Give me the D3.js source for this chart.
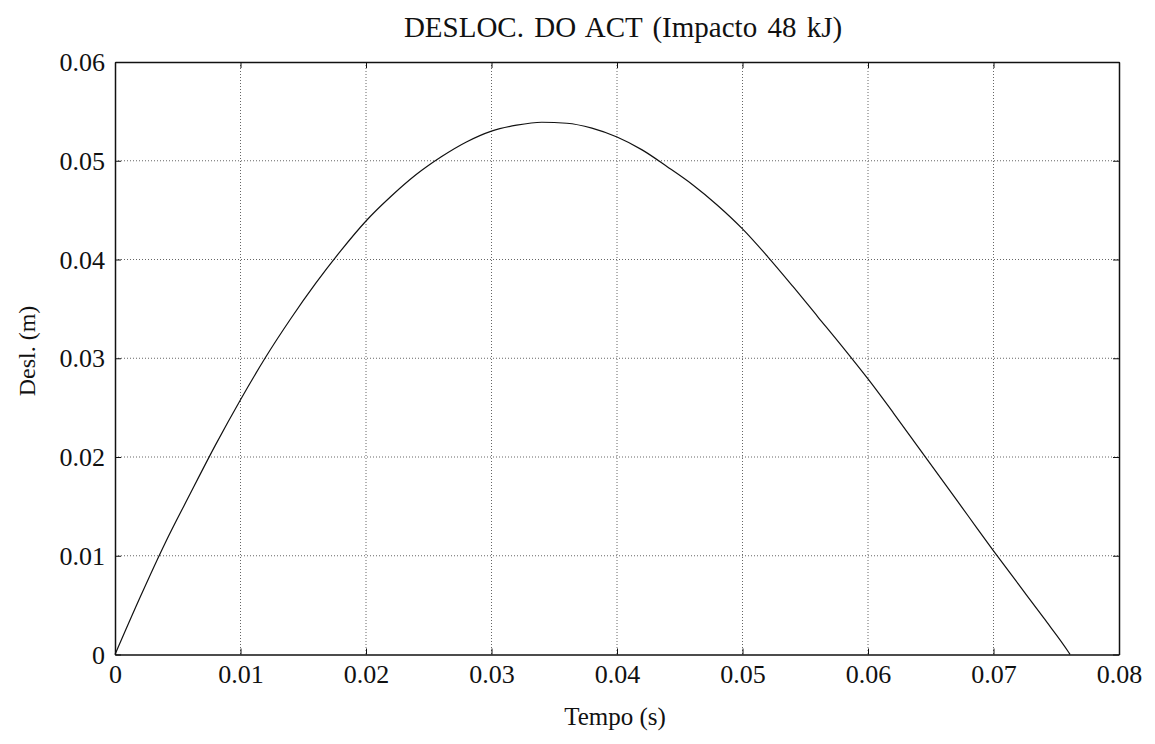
<!DOCTYPE html>
<html><head><meta charset="utf-8">
<script src="https://cdn.jsdelivr.net/npm/d3@7"></script>
<style>body{margin:0;background:#fff}svg{display:block}text{font-family:"Liberation Serif","Times New Roman",serif;fill:#111}</style>
</head><body><svg id="c" width="1155" height="744"></svg>
<script>
const title = "DESLOC. DO ACT (Impacto 48 kJ)";
const xLabel = "Tempo (s)";
const yLabel = "Desl. (m)";
const xTicks = [0, 0.01, 0.02, 0.03, 0.04, 0.05, 0.06, 0.07, 0.08];
const xTickLabels = ["0", "0.01", "0.02", "0.03", "0.04", "0.05", "0.06", "0.07", "0.08"];
const yTicks = [0, 0.01, 0.02, 0.03, 0.04, 0.05, 0.06];
const yTickLabels = ["0", "0.01", "0.02", "0.03", "0.04", "0.05", "0.06"];
const tempo = [0, 0.002, 0.004, 0.006, 0.008, 0.010, 0.012, 0.014, 0.016, 0.018, 0.020,
  0.022, 0.024, 0.026, 0.028, 0.030, 0.032, 0.034, 0.036, 0.038, 0.040, 0.042, 0.044,
  0.046, 0.048, 0.050, 0.052, 0.054, 0.056, 0.058, 0.060, 0.062, 0.064, 0.066, 0.068,
  0.070, 0.072, 0.074, 0.076, 0.0761];
const desl = [0, 0.0058, 0.0113, 0.0163, 0.0212, 0.0258, 0.0301, 0.0340, 0.0376, 0.0409, 0.0439,
  0.0464, 0.0486, 0.0504, 0.0519, 0.0530, 0.0536, 0.0539, 0.0538, 0.0533, 0.0524, 0.0511, 0.0494,
  0.0476, 0.0455, 0.0431, 0.0403, 0.0373, 0.0342, 0.0311, 0.0279, 0.0245, 0.0210, 0.0175, 0.0140,
  0.0105, 0.0071, 0.0037, 0.0002, 0];

const svg = d3.select("#c");
const L = 115, R = 1119, T = 62, B = 654.5;
const x = d3.scaleLinear().domain([0, 0.08]).range([L, R]);
const y = d3.scaleLinear().domain([0, 0.06]).range([B, T]);

// grid
const g = svg.append("g");
g.selectAll(".gx").data(xTicks.slice(1, -1)).join("line")
  .attr("x1", d => x(d)).attr("x2", d => x(d)).attr("y1", T).attr("y2", B)
  .attr("stroke", "#666").attr("stroke-width", 1).attr("stroke-dasharray", "1,2");
g.selectAll(".gy").data(yTicks.slice(1, -1)).join("line")
  .attr("y1", d => y(d)).attr("y2", d => y(d)).attr("x1", L).attr("x2", R)
  .attr("stroke", "#666").attr("stroke-width", 1).attr("stroke-dasharray", "1,2");

// axes with inner ticks
const fmtX = (d, i) => xTickLabels[i];
const fmtY = (d, i) => yTickLabels[i];
const ax = svg.append("g").attr("transform", `translate(0,${B})`)
  .call(d3.axisBottom(x).tickValues(xTicks).tickFormat(fmtX).tickSizeInner(-6).tickSizeOuter(0).tickPadding(10));
const ay = svg.append("g").attr("transform", `translate(${L},0)`)
  .call(d3.axisLeft(y).tickValues(yTicks).tickFormat(fmtY).tickSizeInner(-6).tickSizeOuter(0).tickPadding(10));
const at = svg.append("g").attr("transform", `translate(0,${T})`)
  .call(d3.axisTop(x).tickValues(xTicks).tickFormat("").tickSizeInner(-6).tickSizeOuter(0));
const ar = svg.append("g").attr("transform", `translate(${R},0)`)
  .call(d3.axisRight(y).tickValues(yTicks).tickFormat("").tickSizeInner(-6).tickSizeOuter(0));
[ax, ay, at, ar].forEach(a => {
  a.select(".domain").attr("stroke", "#111").attr("stroke-width", 1.5);
  a.selectAll(".tick line").attr("stroke", "#111");
  a.selectAll("text").attr("font-family", "Liberation Serif").attr("font-size", 26).attr("fill", "#111");
});
ax.selectAll(".tick text").attr("dy", "0.71em");
ay.selectAll(".tick text").attr("dy", "0.33em");

// curve
svg.append("path").datum(tempo.map((t, i) => [t, desl[i]]))
  .attr("fill", "none").attr("stroke", "#111").attr("stroke-width", 1.2)
  .attr("d", d3.line().x(d => x(d[0])).y(d => y(d[1])).curve(d3.curveMonotoneX));

// labels
svg.append("text").attr("x", 623).attr("y", 37).attr("text-anchor", "middle")
  .attr("font-size", 29).attr("word-spacing", 3).text(title);
svg.append("text").attr("x", 615).attr("y", 725).attr("text-anchor", "middle")
  .attr("font-size", 25).text(xLabel);
svg.append("text").attr("transform", "translate(35,351) rotate(-90)").attr("text-anchor", "middle")
  .attr("font-size", 24).text(yLabel);
</script></body></html>
